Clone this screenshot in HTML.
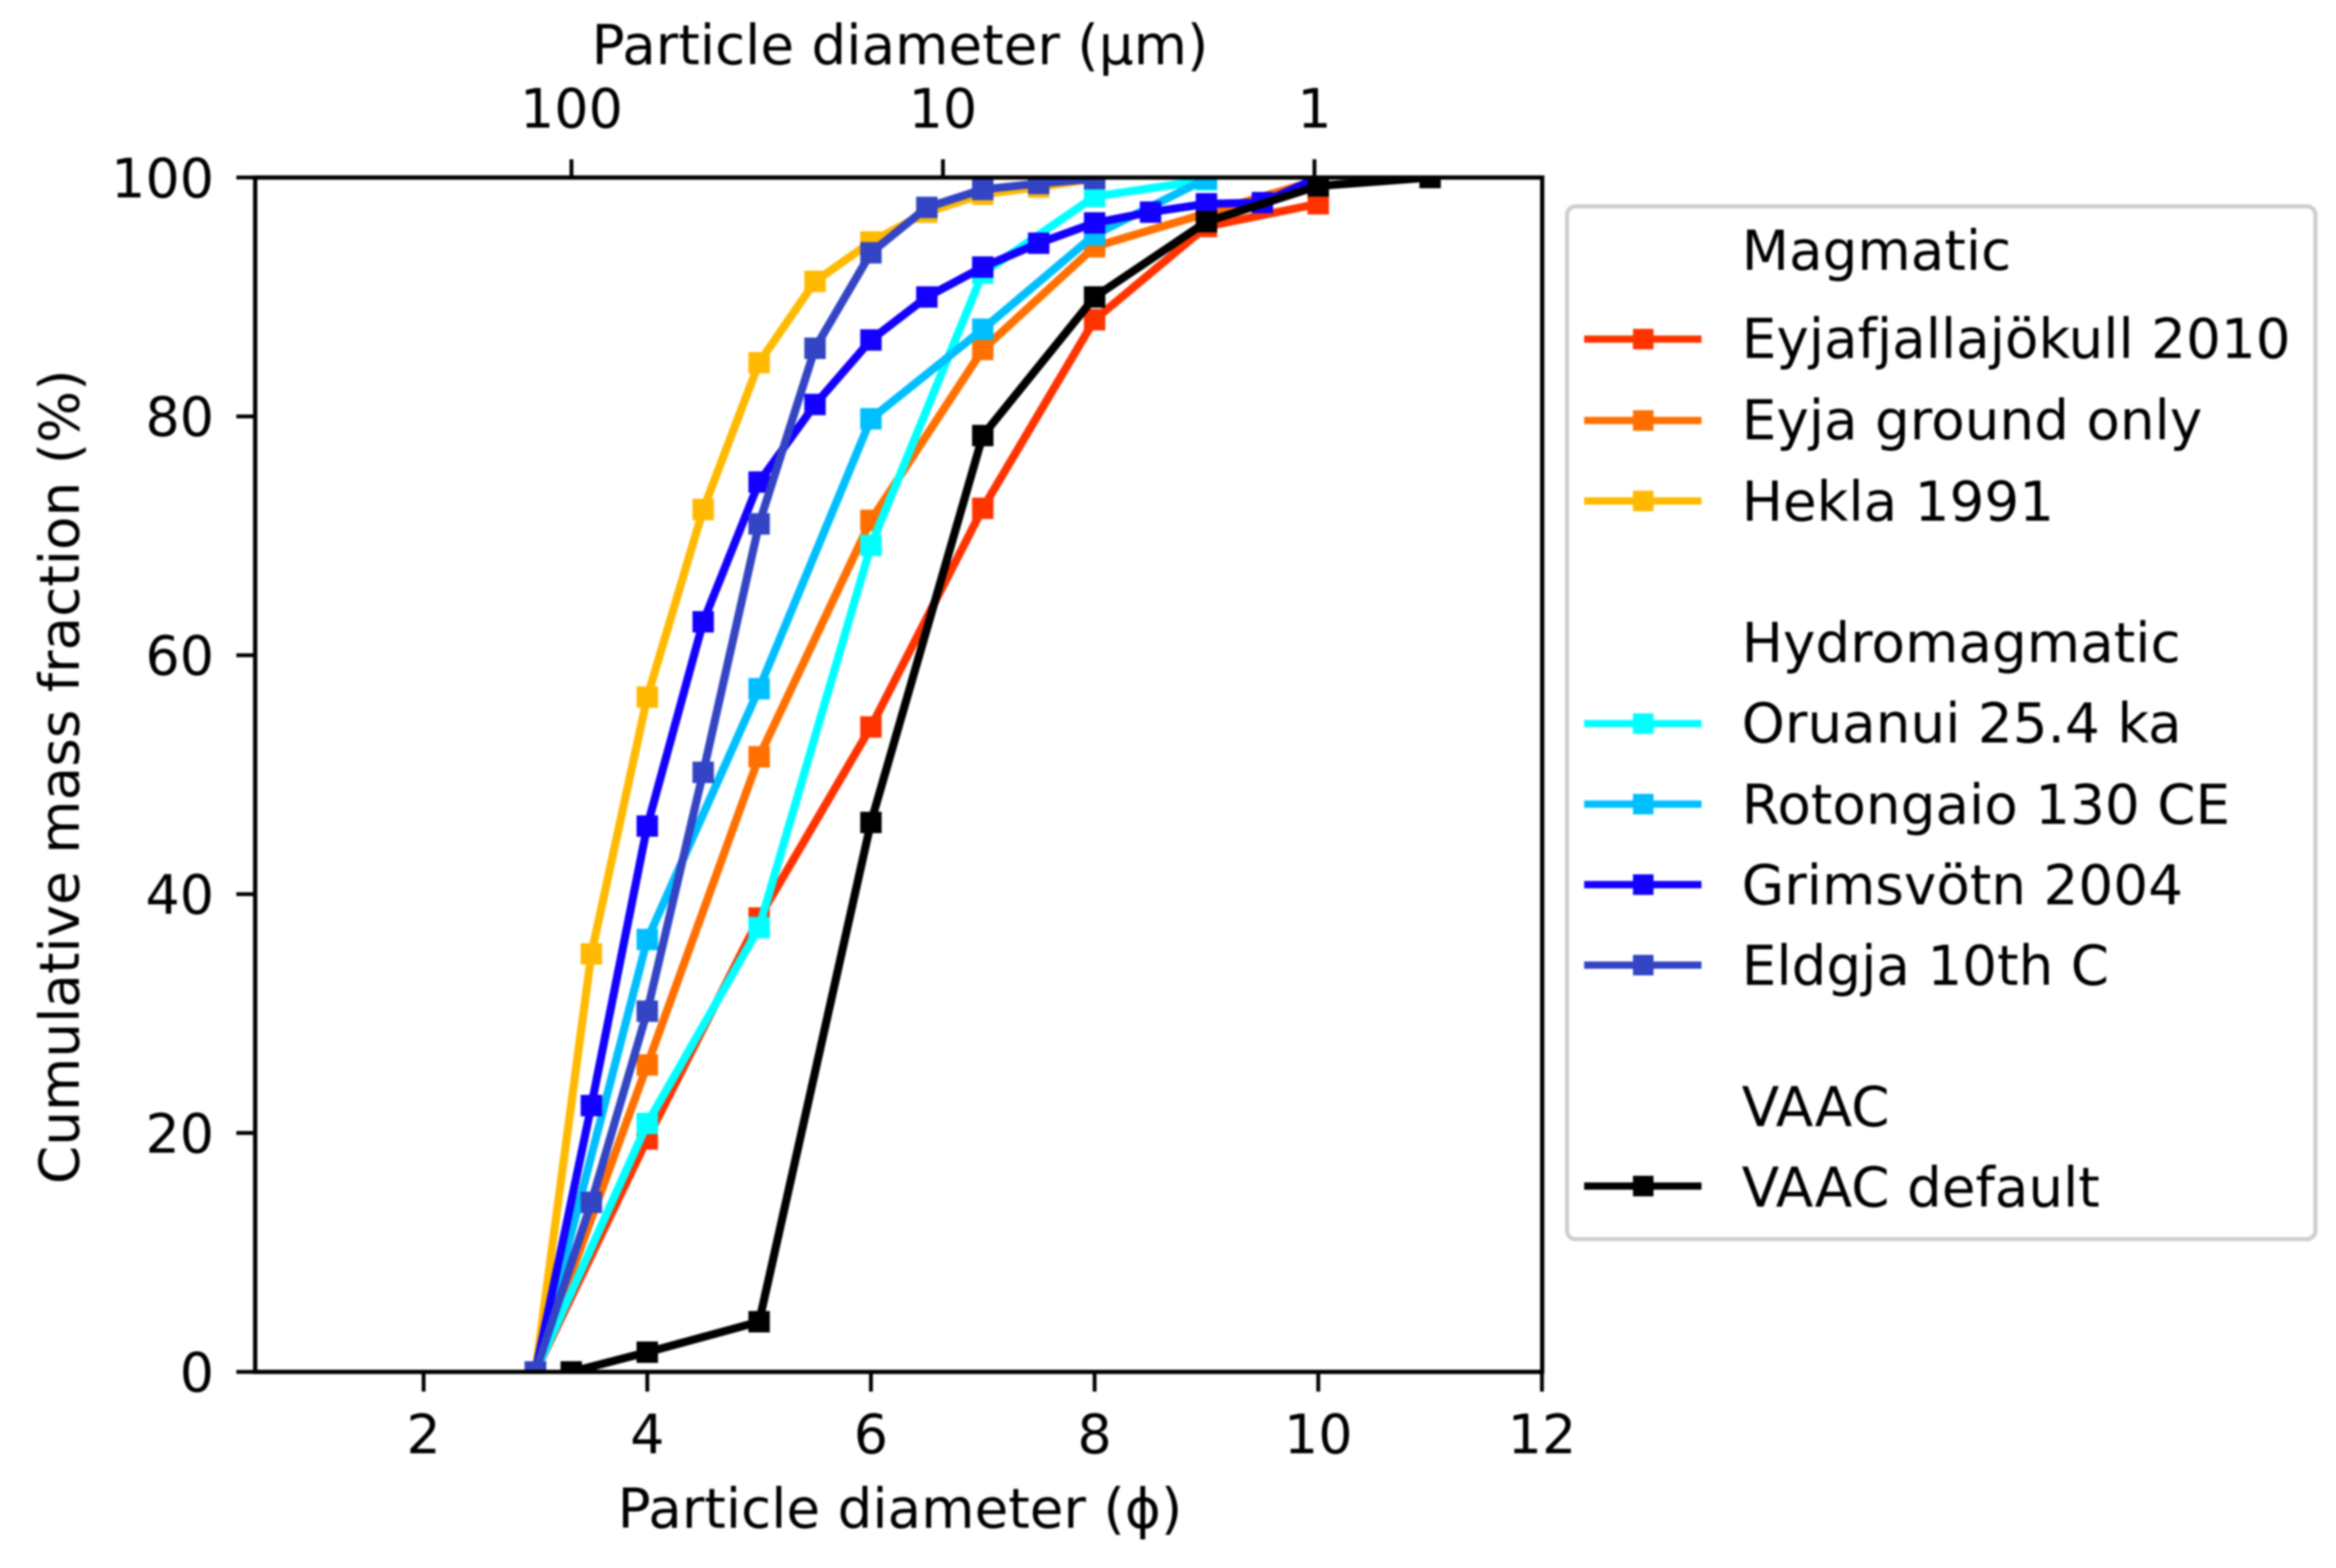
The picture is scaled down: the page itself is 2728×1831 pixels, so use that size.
<!DOCTYPE html>
<html lang="en">
<head>
<meta charset="utf-8">
<title>Cumulative mass fraction by particle diameter</title>
<style>
  html, body { margin: 0; padding: 0; background: #fff; }
  body { width: 2728px; height: 1831px; overflow: hidden; }
  svg { display: block; filter: blur(1px); }
  text { font-family: "DejaVu Sans", "Liberation Sans", sans-serif; fill: #000; }
</style>
</head>
<body>
<svg id="chart" xmlns="http://www.w3.org/2000/svg" width="2728" height="1831" viewBox="0 0 2728 1831">
  <rect x="0" y="0" width="2728" height="1831" fill="#fff"/>
  <defs>
    <clipPath id="plot-clip"><rect x="298" y="207.3" width="1503" height="1394.7"/></clipPath>
  </defs>
  <g id="series-layer" clip-path="url(#plot-clip)"></g>
  <rect x="298" y="207.3" width="1503" height="1394.7" fill="none" stroke="#000" stroke-width="5"/>
  <g id="axis-layer"></g>

  <text x="1051" y="75" font-size="64" text-anchor="middle">Particle diameter (µm)</text>
  <text x="1051" y="1784" font-size="64" text-anchor="middle">Particle diameter (ϕ)</text>
  <text transform="translate(92,907) rotate(-90)" font-size="64" text-anchor="middle">Cumulative mass fraction (%)</text>

  <g>
    <rect x="1830" y="241" width="874" height="1206" rx="10" ry="10" fill="#fff" fill-opacity="0.9" stroke="#cfcfcf" stroke-width="5"/>
    <text x="2034" y="315" font-size="64">Magmatic</text>
    <text x="2034" y="418" font-size="64">Eyjafjallajökull 2010</text>
    <text x="2034" y="513" font-size="64">Eyja ground only</text>
    <text x="2034" y="608" font-size="64">Hekla 1991</text>
    <text x="2034" y="773" font-size="64">Hydromagmatic</text>
    <text x="2034" y="867" font-size="64">Oruanui 25.4 ka</text>
    <text x="2034" y="962" font-size="64">Rotongaio 130 CE</text>
    <text x="2034" y="1056" font-size="64">Grimsvötn 2004</text>
    <text x="2034" y="1150" font-size="64">Eldgja 10th C</text>
    <text x="2034" y="1315" font-size="64">VAAC</text>
    <text x="2034" y="1409" font-size="64">VAAC default</text>

    <g><line x1="1850" x2="1987" y1="396" y2="396" stroke="#ff3300" stroke-width="8.5"/><rect x="1907" y="384" width="24" height="24" fill="#ff3300"/></g>
    <g><line x1="1850" x2="1987" y1="491" y2="491" stroke="#ff7000" stroke-width="8.5"/><rect x="1907" y="479" width="24" height="24" fill="#ff7000"/></g>
    <g><line x1="1850" x2="1987" y1="585" y2="585" stroke="#ffb900" stroke-width="8.5"/><rect x="1907" y="573" width="24" height="24" fill="#ffb900"/></g>
    <g><line x1="1850" x2="1987" y1="845" y2="845" stroke="#00ffff" stroke-width="8.5"/><rect x="1907" y="833" width="24" height="24" fill="#00ffff"/></g>
    <g><line x1="1850" x2="1987" y1="939" y2="939" stroke="#00bfff" stroke-width="8.5"/><rect x="1907" y="927" width="24" height="24" fill="#00bfff"/></g>
    <g><line x1="1850" x2="1987" y1="1033" y2="1033" stroke="#1400ff" stroke-width="8.5"/><rect x="1907" y="1021" width="24" height="24" fill="#1400ff"/></g>
    <g><line x1="1850" x2="1987" y1="1127" y2="1127" stroke="#3344c4" stroke-width="8.5"/><rect x="1907" y="1115" width="24" height="24" fill="#3344c4"/></g>
    <g><line x1="1850" x2="1987" y1="1385" y2="1385" stroke="#000" stroke-width="8.5"/><rect x="1907" y="1373" width="24" height="24" fill="#000"/></g>
  </g>
</svg>
<script>
// Values
const eyjaPhi = [3, 4, 5, 6, 7, 8, 9, 10];
const eyjaMass = [0, 19.5, 38, 54, 72.3, 88.1, 95.9, 97.8];
const groundPhi = [3, 4, 5, 6, 7, 8, 9, 10];
const groundMass = [0, 25.7, 51.5, 71.3, 85.6, 94.2, 97, 99.8];
const heklaPhi = [3, 3.5, 4, 4.5, 5, 5.5, 6, 6.5, 7, 7.5, 8];
const heklaMass = [0, 35, 56.5, 72.2, 84.5, 91.3, 94.6, 97.1, 98.6, 99.2, 99.9];
const oruanuiPhi = [3, 4, 5, 6, 7, 8, 9];
const oruanuiMass = [0, 20.8, 37.2, 69.2, 92, 98.4, 99.8];
const rotongaioPhi = [3, 4, 5, 6, 7, 8, 9];
const rotongaioMass = [0, 36.2, 57.2, 79.8, 87.3, 95.2, 99.9];
const grimsvotnPhi = [3, 3.5, 4, 4.5, 5, 5.5, 6, 6.5, 7, 7.5, 8, 8.5, 9, 9.5, 10];
const grimsvotnMass = [0, 22.3, 45.7, 62.8, 74.5, 81, 86.4, 90, 92.5, 94.5, 96.2, 97.1, 97.8, 97.9, 100];
const eldgjaPhi = [3, 3.5, 4, 4.5, 5, 5.5, 6, 6.5, 7, 7.5, 8];
const eldgjaMass = [0, 14.2, 30.2, 50.2, 71, 85.7, 93.7, 97.5, 99, 99.5, 99.9];
const vaacPhi = [3.32, 4, 5, 6, 7, 8, 9, 10, 11];
const vaacMass = [0, 1.65, 4.2, 46, 78.4, 90, 96.3, 99.3, 100];

const seriesPhi = [eyjaPhi, groundPhi, heklaPhi, oruanuiPhi, rotongaioPhi, grimsvotnPhi, eldgjaPhi, vaacPhi];
const seriesMass = [eyjaMass, groundMass, heklaMass, oruanuiMass, rotongaioMass, grimsvotnMass, eldgjaMass, vaacMass];
const seriesColors = ['#ff3300', '#ff7000', '#ffb900', '#00ffff', '#00bfff', '#1400ff', '#3344c4', '#000000'];
const seriesSlugs = ['eyjafjallajokull', 'eyja-ground', 'hekla', 'oruanui', 'rotongaio', 'grimsvotn', 'eldgja', 'vaac-default'];

const xTicks = [2, 4, 6, 8, 10, 12];
const yTicks = [0, 20, 40, 60, 80, 100];
const topTicksMicrons = [100, 10, 1];

const NS = 'http://www.w3.org/2000/svg';
const xScale = phi => 494.7 + (phi - 2) * 130.6;
const yScale = mass => 1602 - mass * 13.947;
const micronsToPhi = um => -Math.log2(um / 1000);

const seriesLayer = document.getElementById('series-layer');
const axisLayer = document.getElementById('axis-layer');

seriesPhi.forEach((phis, s) => {
  const group = document.createElementNS(NS, 'g');
  
  

  const line = document.createElementNS(NS, 'polyline');
  
  
  line.setAttribute('points', phis.map((p, i) => xScale(p).toFixed(1) + ',' + yScale(seriesMass[s][i]).toFixed(1)).join(' '));
  line.setAttribute('fill', 'none');
  line.setAttribute('stroke', seriesColors[s]);
  line.setAttribute('stroke-width', '9.5');
  line.setAttribute('stroke-linejoin', 'round');
  group.appendChild(line);

  phis.forEach((p, i) => {
    const marker = document.createElementNS(NS, 'rect');
    
    
    marker.setAttribute('x', (xScale(p) - 12.5).toFixed(1));
    marker.setAttribute('y', (yScale(seriesMass[s][i]) - 12.5).toFixed(1));
    marker.setAttribute('width', '25');
    marker.setAttribute('height', '25');
    marker.setAttribute('fill', seriesColors[s]);
    group.appendChild(marker);
  });
  seriesLayer.appendChild(group);
});

function addTick(x1, y1, x2, y2, name) {
  const tick = document.createElementNS(NS, 'line');
  
  
  tick.setAttribute('x1', x1);
  tick.setAttribute('y1', y1);
  tick.setAttribute('x2', x2);
  tick.setAttribute('y2', y2);
  tick.setAttribute('stroke', '#000');
  tick.setAttribute('stroke-width', '4.5');
  axisLayer.appendChild(tick);
}

function addLabel(x, y, anchor, value, name) {
  const label = document.createElementNS(NS, 'text');
  
  
  label.setAttribute('x', x);
  label.setAttribute('y', y);
  label.setAttribute('text-anchor', anchor);
  label.setAttribute('font-size', '63');
  label.textContent = value;
  axisLayer.appendChild(label);
}

xTicks.forEach(v => {
  addTick(xScale(v), 1602, xScale(v), 1625, 'x-tick-mark');
  addLabel(xScale(v), 1697, 'middle', String(v), 'x-tick-label');
});
yTicks.forEach(v => {
  addTick(276, yScale(v), 298, yScale(v), 'y-tick-mark');
  addLabel(250, yScale(v) + 23, 'end', String(v), 'y-tick-label');
});
topTicksMicrons.forEach(v => {
  const x = xScale(micronsToPhi(v));
  addTick(x, 186, x, 207.3, 'top-x-tick-mark');
  addLabel(x, 149, 'middle', String(v), 'top-x-tick-label');
});
</script>
</body>
</html>
